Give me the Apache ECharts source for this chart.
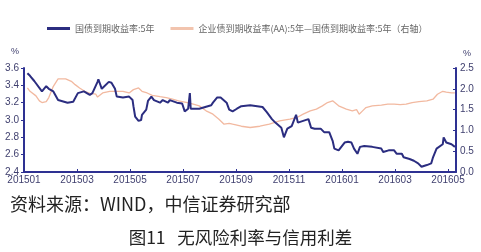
<!DOCTYPE html>
<html>
<head>
<meta charset="utf-8">
<script src="https://cdn.jsdelivr.net/npm/echarts@6/dist/echarts.min.js"></script>
<style>html,body{margin:0;padding:0;background:#fff;}#c{width:481px;height:252px;}</style>
</head>
<body>
<div id="c"></div>
<script>
// 国债到期收益率:5年 (left axis, %)
const blueDates = ['2015-01-05','2015-01-08','2015-01-13','2015-01-22','2015-01-27','2015-01-30','2015-02-04','2015-02-09','2015-02-19','2015-02-25','2015-02-27','2015-03-02','2015-03-09','2015-03-16','2015-03-19','2015-03-25','2015-03-26','2015-03-30','2015-04-07','2015-04-10','2015-04-14','2015-04-16','2015-04-23','2015-04-30','2015-05-04','2015-05-05','2015-05-07','2015-05-11','2015-05-14','2015-05-15','2015-05-20','2015-05-22','2015-05-26','2015-05-29','2015-06-05','2015-06-08','2015-06-14','2015-06-16','2015-06-24','2015-06-30','2015-07-03','2015-07-07','2015-07-09','2015-07-10','2015-07-20','2015-07-27','2015-08-03','2015-08-05','2015-08-10','2015-08-14','2015-08-21','2015-08-24','2015-08-28','2015-09-02','2015-09-07','2015-09-17','2015-10-01','2015-10-06','2015-10-12','2015-10-16','2015-10-23','2015-10-26','2015-10-30','2015-11-04','2015-11-09','2015-11-11','2015-11-17','2015-11-23','2015-11-26','2015-11-30','2015-12-07','2015-12-11','2015-12-17','2015-12-21','2015-12-23','2015-12-28','2016-01-04','2016-01-08','2016-01-12','2016-01-15','2016-01-19','2016-01-22','2016-01-27','2016-02-05','2016-02-15','2016-02-17','2016-02-23','2016-02-29','2016-03-03','2016-03-09','2016-03-11','2016-03-18','2016-03-23','2016-03-28','2016-04-01','2016-04-07','2016-04-12','2016-04-14','2016-04-18','2016-04-25','2016-04-26','2016-04-29','2016-05-05','2016-05-09'];
const blueValues = [3.54,3.51,3.45,3.33,3.39,3.36,3.33,3.23,3.20,3.21,3.23,3.31,3.33,3.29,3.31,3.44,3.47,3.36,3.44,3.43,3.36,3.27,3.26,3.27,3.23,3.16,3.04,2.99,3.00,3.06,3.12,3.22,3.27,3.23,3.20,3.23,3.20,3.23,3.20,3.19,3.10,3.13,3.31,3.13,3.13,3.15,3.17,3.20,3.26,3.26,3.20,3.12,3.10,3.13,3.16,3.17,3.15,3.09,3.01,2.97,2.91,2.80,2.90,2.93,3.06,2.97,2.99,3.01,2.91,2.90,2.90,2.86,2.86,2.76,2.67,2.65,2.74,2.75,2.74,2.67,2.61,2.69,2.70,2.69,2.67,2.63,2.65,2.65,2.61,2.61,2.57,2.55,2.53,2.50,2.46,2.48,2.50,2.57,2.67,2.72,2.80,2.74,2.72,2.69];

// 企业债到期收益率(AA):5年—国债到期收益率:5年 (right axis, %)
const orangeDates = ['2015-01-05','2015-01-08','2015-01-15','2015-01-19','2015-01-22','2015-01-27','2015-01-30','2015-02-04','2015-02-09','2015-02-11','2015-02-17','2015-02-23','2015-02-27','2015-03-04','2015-03-10','2015-03-16','2015-03-23','2015-03-25','2015-03-31','2015-04-08','2015-04-16','2015-04-23','2015-04-30','2015-05-05','2015-05-11','2015-05-15','2015-05-21','2015-05-27','2015-06-05','2015-06-12','2015-06-19','2015-06-26','2015-07-06','2015-07-13','2015-07-20','2015-07-28','2015-08-05','2015-08-12','2015-08-18','2015-08-24','2015-08-28','2015-09-07','2015-09-17','2015-09-28','2015-10-09','2015-10-21','2015-11-02','2015-11-10','2015-11-17','2015-11-25','2015-12-02','2015-12-09','2015-12-15','2015-12-21','2015-12-28','2016-01-06','2016-01-13','2016-01-18','2016-01-21','2016-01-25','2016-01-29','2016-02-05','2016-02-15','2016-02-22','2016-02-29','2016-03-07','2016-03-14','2016-03-21','2016-03-29','2016-04-07','2016-04-14','2016-04-19','2016-04-25','2016-04-29','2016-05-05','2016-05-09'];
const orangeValues = [2.02,1.94,1.83,1.71,1.67,1.69,1.79,2.06,2.24,2.28,2.24,2.18,2.10,2.02,1.94,1.89,1.87,1.80,1.90,1.94,1.94,1.94,1.90,1.98,2.02,1.94,1.90,1.84,1.81,1.79,1.75,1.71,1.67,1.63,1.59,1.47,1.39,1.27,1.15,1.17,1.15,1.10,1.07,1.10,1.15,1.23,1.27,1.31,1.39,1.47,1.51,1.59,1.67,1.71,1.59,1.51,1.47,1.50,1.39,1.47,1.55,1.59,1.61,1.63,1.63,1.62,1.63,1.67,1.69,1.71,1.75,1.87,1.94,1.92,1.90,1.90];

const seriesNames = ['国债到期收益率:5年', '企业债到期收益率(AA):5年—国债到期收益率:5年（右轴）'];
const leftTicks = {min: 2.4, max: 3.6, interval: 0.2};
const rightTicks = {min: 0, max: 2.5, interval: 0.5};
const sourceText = '资料来源：WIND，中信证券研究部';
const captionText = '图11   无风险利率与信用利差';

const BASE_YEAR = 2015;
function toMonthIndex(s) {
  const p = s.split('-').map(Number);
  const dim = new Date(p[0], p[1], 0).getDate();
  return (p[0] - BASE_YEAR) * 12 + (p[1] - 1) + (p[2] - 1) / dim;
}
function pairs(dates, vals) { return dates.map((d, i) => [toMonthIndex(d), vals[i]]); }

const axisColor = '#2E3192';
const labelColor = '#3F3F6E';
const chart = echarts.init(document.getElementById('c'), null, {renderer: 'canvas'});
chart.setOption({
  animation: false,
  backgroundColor: '#fff',
  grid: {left: 24, right: 25, top: 68, bottom: 80, containLabel: false},
  legend: {
    data: seriesNames, left: 42, top: 19, icon: 'rect', itemWidth: 23, itemHeight: 3, itemGap: 16,
    textStyle: {fontSize: 9, color: '#666', fontFamily: 'Noto Sans CJK SC'}
  },
  xAxis: {
    type: 'value', min: 0, max: 16.3, interval: 2,
    axisLine: {lineStyle: {color: axisColor, width: 2}},
    axisTick: {inside: true, length: 3, lineStyle: {color: axisColor}},
    splitLine: {show: false},
    axisLabel: {
      color: labelColor, fontSize: 10, margin: 3, fontFamily: 'Liberation Sans', showMaxLabel: false,
      formatter: function (v) {
        if (Math.abs(v - Math.round(v)) > 1e-6) return '';
        const r = Math.round(v);
        const y = BASE_YEAR + Math.floor(r / 12);
        const m = r % 12 + 1;
        return y + String(m).padStart(2, '0');
      }
    }
  },
  yAxis: [
    {
      type: 'value', min: leftTicks.min, max: leftTicks.max, interval: leftTicks.interval,
      axisLine: {show: true, lineStyle: {color: axisColor, width: 2}},
      axisTick: {show: true, length: 3, lineStyle: {color: axisColor}},
      splitLine: {show: false},
      axisLabel: {color: labelColor, fontSize: 10, margin: 5, fontFamily: 'Liberation Sans', formatter: v => v.toFixed(1)}
    },
    {
      type: 'value', min: rightTicks.min, max: rightTicks.max, interval: rightTicks.interval, position: 'right',
      axisLine: {show: true, lineStyle: {color: axisColor, width: 2}},
      axisTick: {show: true, inside: true, length: 3, lineStyle: {color: axisColor}},
      splitLine: {show: false},
      axisLabel: {color: labelColor, fontSize: 10, margin: 4, fontFamily: 'Liberation Sans', formatter: v => v.toFixed(1)}
    }
  ],
  series: [
    {
      name: seriesNames[0], type: 'line', yAxisIndex: 0, data: pairs(blueDates, blueValues),
      showSymbol: false, symbol: 'none', z: 3,
      lineStyle: {color: '#2B2D80', width: 2}, itemStyle: {color: '#2B2D80'}
    },
    {
      name: seriesNames[1], type: 'line', yAxisIndex: 1, data: pairs(orangeDates, orangeValues),
      showSymbol: false, symbol: 'none', z: 2,
      lineStyle: {color: '#F2B9A0', width: 1.3}, itemStyle: {color: '#F2C4AE'}
    }
  ],
  graphic: [
    {type: 'text', left: 11, top: 47, style: {text: '%', fontSize: 9, fill: labelColor, fontFamily: 'Liberation Sans'}},
    {type: 'text', left: 463, top: 49, style: {text: '%', fontSize: 9, fill: labelColor, fontFamily: 'Liberation Sans'}},
    {type: 'text', left: 10, top: 195, style: {text: sourceText, fontSize: 18, fill: '#222', fontFamily: 'Noto Sans CJK SC'}},
    {type: 'text', left: 'center', top: 229, style: {text: captionText, fontSize: 17.5, fill: '#222', fontFamily: 'Noto Sans CJK SC'}}
  ]
});
</script>
</body>
</html>
